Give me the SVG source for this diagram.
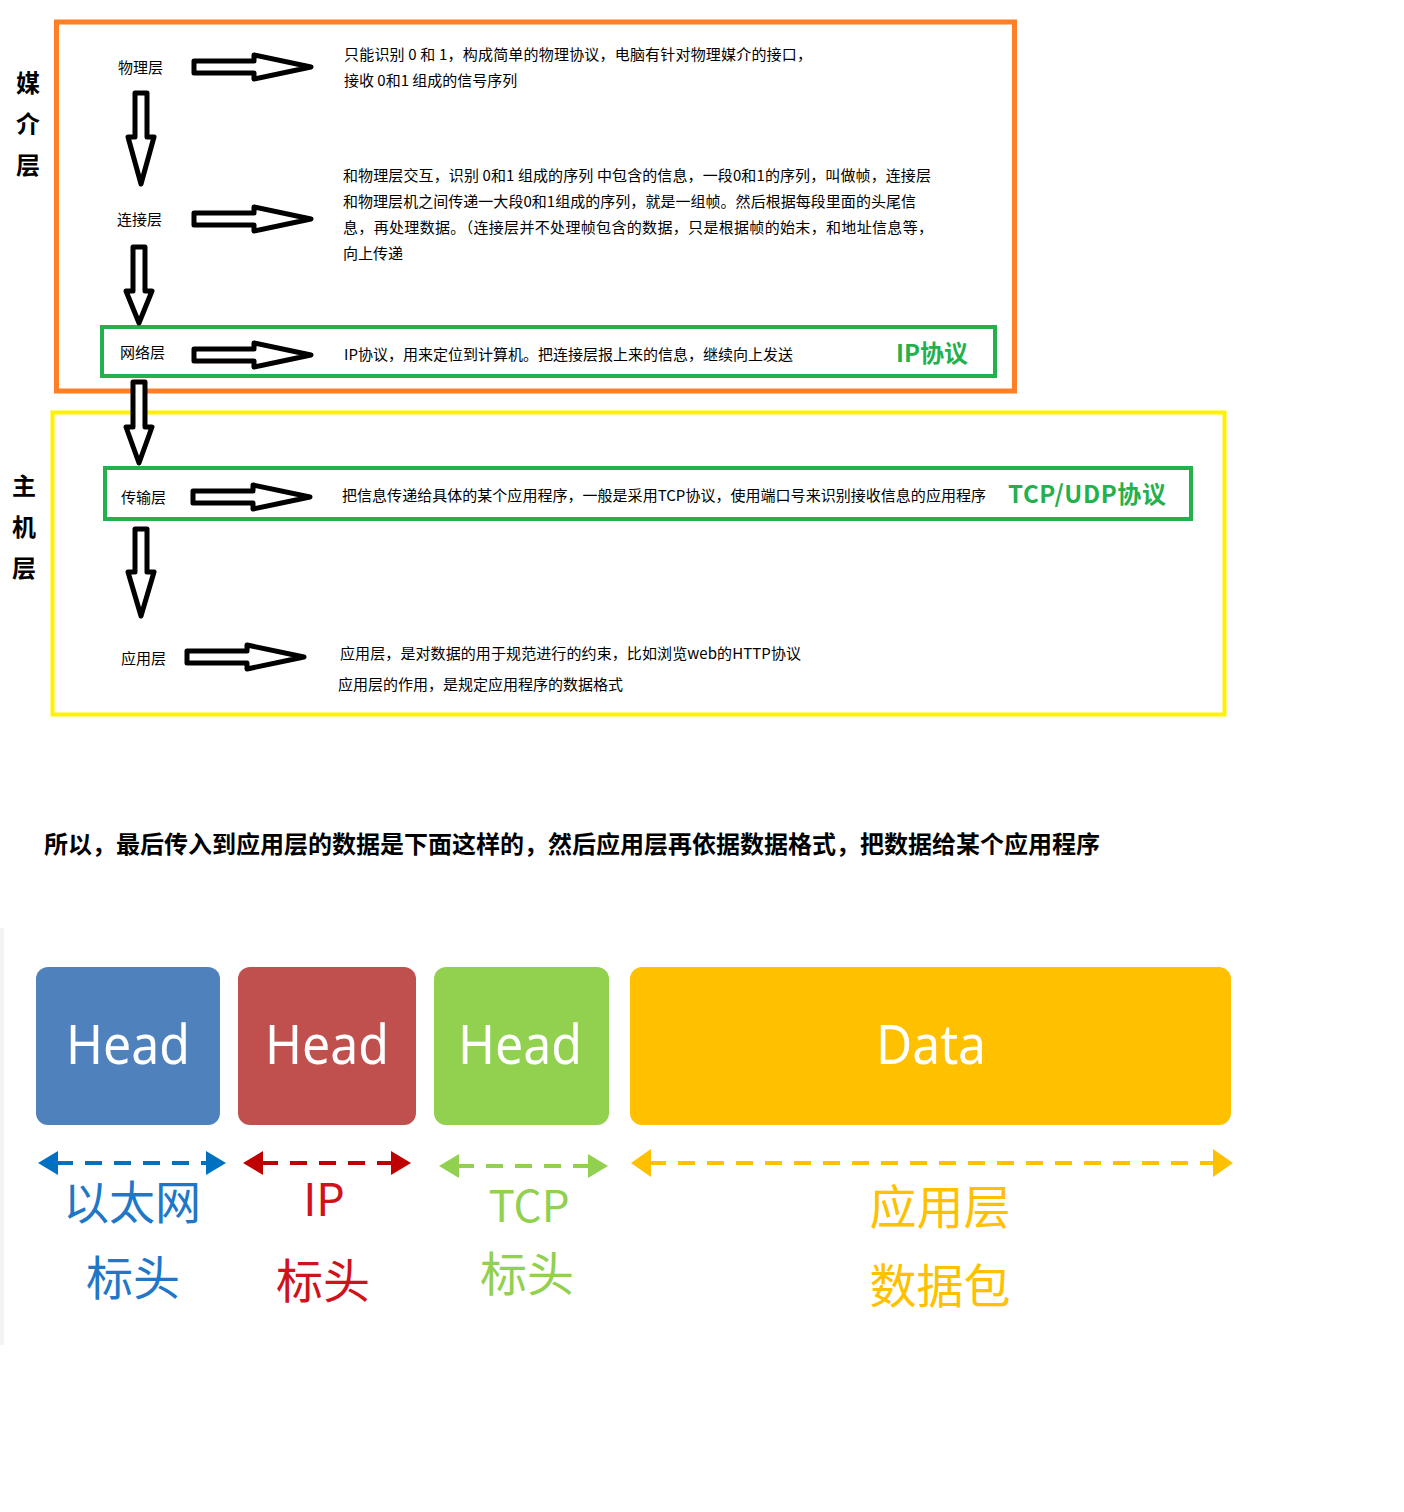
<svg xmlns="http://www.w3.org/2000/svg" width="1404" height="1512" viewBox="0 0 1404 1512">
<style>
.t{font-family:"Noto Sans CJK SC","Liberation Sans",sans-serif;font-size:15px;fill:#000}
.side{font-family:"Noto Sans CJK SC",sans-serif;font-size:24px;font-weight:700;fill:#000;text-anchor:middle}
.gl{font-family:"Noto Sans CJK SC",sans-serif;font-size:24px;font-weight:700;fill:#22B14C}
.arr{fill:#fff;stroke:#000;stroke-width:5;stroke-linejoin:round}
.head{font-family:"Noto Sans","Open Sans",sans-serif;font-size:54px;fill:#fff;text-anchor:middle}
.lab{font-family:"Noto Sans CJK SC",sans-serif;text-anchor:middle}
</style>
<defs>
<path id="ra" d="M 2,-6 H 62 V -12 L 119,0 L 62,12 V 6 H 2 Z"/>
</defs>
<rect width="1404" height="1512" fill="#fff"/>

<g id="frames">
<rect x="56.5" y="22" width="958" height="369" fill="none" stroke="#FF7F27" stroke-width="5"/>
<rect x="52.5" y="412.5" width="1172" height="302" fill="none" stroke="#FFF200" stroke-width="4"/>
<rect x="102" y="327" width="893" height="49" fill="none" stroke="#22B14C" stroke-width="4"/>
<rect x="105" y="468" width="1086" height="51" fill="none" stroke="#22B14C" stroke-width="4"/>
</g>

<g id="side-labels">
<text class="side" x="28" y="92">媒</text>
<text class="side" x="28" y="133">介</text>
<text class="side" x="28" y="174">层</text>
<text class="side" x="24" y="495">主</text>
<text class="side" x="24" y="536">机</text>
<text class="side" x="24" y="577">层</text>
</g>

<g id="node-physical">
<text class="t" x="118" y="73">物理层</text>
<text class="t" x="344" y="60" textLength="468">只能识别 0 和 1，构成简单的物理协议，电脑有针对物理媒介的接口，</text>
<text class="t" x="344" y="86">接收 0和1 组成的信号序列</text>
</g>

<g id="node-link">
<text class="t" x="117" y="225">连接层</text>
<text class="t" x="343" y="181" textLength="588">和物理层交互，识别 0和1 组成的序列 中包含的信息，一段0和1的序列，叫做帧，连接层</text>
<text class="t" x="343" y="207" textLength="573">和物理层机之间传递一大段0和1组成的序列，就是一组帧。然后根据每段里面的头尾信</text>
<text class="t" x="343" y="233" textLength="590">息，再处理数据。（连接层并不处理帧包含的数据，只是根据帧的始末，和地址信息等，</text>
<text class="t" x="343" y="259">向上传递</text>
</g>

<g id="node-network">
<text class="t" x="120" y="358">网络层</text>
<text class="t" x="344" y="360" textLength="449">IP协议，用来定位到计算机。把连接层报上来的信息，继续向上发送</text>
<text class="gl" x="896" y="362">IP协议</text>
</g>

<g id="node-transport">
<text class="t" x="121" y="503">传输层</text>
<text class="t" x="342" y="501" textLength="644">把信息传递给具体的某个应用程序，一般是采用TCP协议，使用端口号来识别接收信息的应用程序</text>
<text class="gl" x="1008" y="503" textLength="158">TCP/UDP协议</text>
</g>

<g id="node-application">
<text class="t" x="121" y="664">应用层</text>
<text class="t" x="340" y="659" textLength="461">应用层，是对数据的用于规范进行的约束，比如浏览web的HTTP协议</text>
<text class="t" x="338" y="690">应用层的作用，是规定应用程序的数据格式</text>
</g>

<g id="connectors">
<use href="#ra" class="arr" transform="translate(192,67)"/>
<use href="#ra" class="arr" transform="translate(192,219)"/>
<use href="#ra" class="arr" transform="translate(192,355)"/>
<use href="#ra" class="arr" transform="translate(191,497)"/>
<use href="#ra" class="arr" transform="translate(185,657)"/>
<path class="arr" d="M 135,93 V 137 H 128 L 141,184 L 154,137 H 147 V 93 Z"/>
<path class="arr" d="M 133,247 V 291 H 126 L 139,323 L 152,291 H 145 V 247 Z"/>
<path class="arr" d="M 133,382 V 427 H 126 L 139,463 L 152,427 H 145 V 382 Z"/>
<path class="arr" d="M 135,529 V 572 H 128 L 141,616 L 154,572 H 147 V 529 Z"/>
</g>

<g id="heading">
<text x="44" y="853" textLength="1056" style="font-family:'Noto Sans CJK SC',sans-serif;font-size:24px;font-weight:700;fill:#000">所以，最后传入到应用层的数据是下面这样的，然后应用层再依据数据格式，把数据给某个应用程序</text>
</g>

<rect x="0" y="928" width="4" height="417" fill="#f3f3f3"/>

<g id="packet-ethernet">
<rect x="36" y="967" width="184" height="158" rx="12" fill="#4F81BD"/>
<text class="head" x="128" y="1064" textLength="124" lengthAdjust="spacingAndGlyphs">Head</text>
</g>
<g id="packet-ip">
<rect x="238" y="967" width="178" height="158" rx="12" fill="#C0504D"/>
<text class="head" x="327" y="1064" textLength="124" lengthAdjust="spacingAndGlyphs">Head</text>
</g>
<g id="packet-tcp">
<rect x="434" y="967" width="175" height="158" rx="12" fill="#92D050"/>
<text class="head" x="520" y="1064" textLength="124" lengthAdjust="spacingAndGlyphs">Head</text>
</g>
<g id="packet-data">
<rect x="630" y="967" width="601" height="158" rx="12" fill="#FFC000"/>
<text class="head" x="931" y="1064" textLength="110" lengthAdjust="spacingAndGlyphs">Data</text>
</g>

<g id="span-arrows">
<line x1="56" y1="1163" x2="208" y2="1163" stroke="#0070C0" stroke-width="4" stroke-dasharray="17 12"/>
<polygon points="38,1163 58,1151 58,1175" fill="#0070C0"/>
<polygon points="226,1163 206,1151 206,1175" fill="#0070C0"/>
<line x1="261" y1="1163" x2="394" y2="1163" stroke="#C00000" stroke-width="4" stroke-dasharray="17 12"/>
<polygon points="243,1163 263,1151 263,1175" fill="#C00000"/>
<polygon points="411,1163 391,1151 391,1175" fill="#C00000"/>
<line x1="457" y1="1166" x2="590" y2="1166" stroke="#92D050" stroke-width="4" stroke-dasharray="17 12"/>
<polygon points="439,1166 459,1154 459,1178" fill="#92D050"/>
<polygon points="608,1166 588,1154 588,1178" fill="#92D050"/>
<line x1="649" y1="1163" x2="1215" y2="1163" stroke="#FFC000" stroke-width="4" stroke-dasharray="17 12"/>
<polygon points="631,1163 651,1149 651,1177" fill="#FFC000"/>
<polygon points="1233,1163 1213,1149 1213,1177" fill="#FFC000"/>
</g>

<g id="span-labels">
<text class="lab" x="132" y="1219" font-size="46" fill="#1F77C8">以太网</text>
<text class="lab" x="133" y="1295" font-size="47" fill="#1F77C8">标头</text>
<text class="lab" x="324" y="1216" font-size="45" fill="#D0121B">IP</text>
<text class="lab" x="323" y="1298" font-size="47" fill="#D0121B">标头</text>
<text class="lab" x="529" y="1222" font-size="44" fill="#92D050">TCP</text>
<text class="lab" x="527" y="1291" font-size="47" fill="#92D050">标头</text>
<text class="lab" x="940" y="1224" font-size="47" fill="#FFC000">应用层</text>
<text class="lab" x="940" y="1303" font-size="47" fill="#FFC000">数据包</text>
</g>
</svg>
